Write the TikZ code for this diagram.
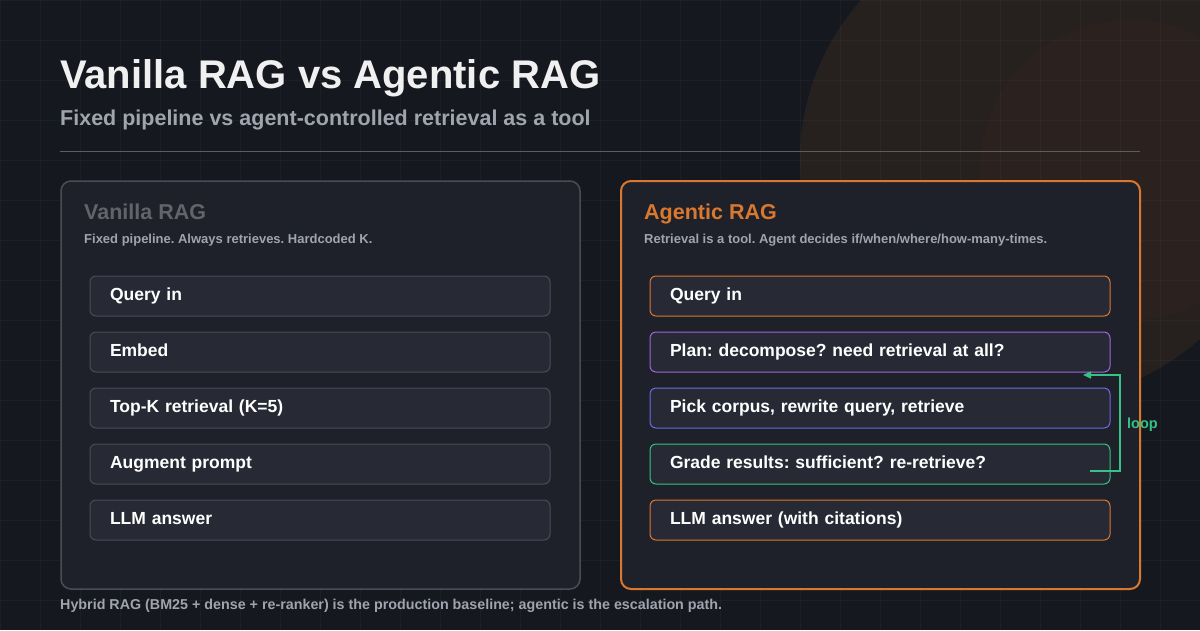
\documentclass[tikz,border=0pt]{standalone}
\usepackage{fontspec}
\setmainfont{Liberation Sans}
\frenchspacing
\usetikzlibrary{arrows.meta}
\definecolor{bg}{HTML}{16181F}
\definecolor{panel}{HTML}{1E2129}
\definecolor{boxf}{HTML}{272A34}
\definecolor{lborder}{HTML}{4A4D57}
\definecolor{orng}{HTML}{D9782E}
\definecolor{purp}{HTML}{A064E0}
\definecolor{indi}{HTML}{6B6BE0}
\definecolor{grn}{HTML}{34C384}
\definecolor{sub}{HTML}{A0A4AE}
\definecolor{glow}{HTML}{3A2A20}
\tikzset{
 panelbox/.style={draw, line width=1.5pt, fill=panel, rounded corners=10pt},
 stepbox/.style={draw, line width=1pt, fill=boxf, rounded corners=6pt, minimum width=460pt, minimum height=40pt, text width=420pt, text height=11pt, text depth=2pt, align=left, inner xsep=20pt, font=\bfseries\fontsize{17.5}{20}\selectfont, text=white},
 heading/.style={anchor=base west, inner sep=0pt, font=\bfseries\fontsize{21.5}{25}\selectfont},
 subtxt/.style={anchor=base west, inner sep=0pt, font=\bfseries\fontsize{13}{15}\selectfont, text=sub}
}
\begin{document}
\begin{tikzpicture}[x=1pt,y=-1pt]
\useasboundingbox (0,0) rectangle (1200,630);
\fill[bg] (0,0) rectangle (1200,630);
\begin{scope}
\clip (0,0) rectangle (1200,630);
\fill[glow, opacity=0.45] (1040,160) circle (240);
\fill[glow, opacity=0.25] (1130,170) circle (150);
\foreach \x in {0,40,...,1200} \draw[white, opacity=0.03] (\x,0) -- (\x,630);
\foreach \y in {0,40,...,640} \draw[white, opacity=0.03] (0,\y) -- (1200,\y);
\end{scope}
\node[anchor=base west, inner sep=0pt, font=\bfseries\fontsize{40}{44}\selectfont, text=white!94!black] (title) at (60,88) {Vanilla RAG vs Agentic RAG};
\node[anchor=base west, inner sep=0pt, font=\bfseries\fontsize{21.5}{25}\selectfont, text=sub] (subt) at (60,125) {Fixed pipeline vs agent-controlled retrieval as a tool};
\draw[white!30!bg, line width=1pt] (60,151) -- (1140,151);
% panels
\draw[panelbox, draw=lborder] (61,181) rectangle (580,589);
\draw[panelbox, draw=orng, line width=2pt] (621,181) rectangle (1140,589);
\node[heading, text=white!30!panel] (lh) at (84,219) {Vanilla RAG};
\node[subtxt] (ls) at (84,243) {Fixed pipeline. Always retrieves. Hardcoded K.};
\node[heading, text=orng] (rh) at (644,219) {Agentic RAG};
\node[subtxt] (rs) at (644,243) {Retrieval is a tool. Agent decides if/when/where/how-many-times.};
% left steps
\node[stepbox, draw=lborder] (l1) at (320,296) {Query in};
\node[stepbox, draw=lborder] (l2) at (320,352) {Embed};
\node[stepbox, draw=lborder] (l3) at (320,408) {Top-K retrieval (K=5)};
\node[stepbox, draw=lborder] (l4) at (320,464) {Augment prompt};
\node[stepbox, draw=lborder] (l5) at (320,520) {LLM answer};
% right steps
\node[stepbox, draw=orng] (r1) at (880,296) {Query in};
\node[stepbox, draw=purp] (r2) at (880,352) {Plan: decompose? need retrieval at all?};
\node[stepbox, draw=indi] (r3) at (880,408) {Pick corpus, rewrite query, retrieve};
\node[stepbox, draw=grn] (r4) at (880,464) {Grade results: sufficient? re-retrieve?};
\node[stepbox, draw=orng] (r5) at (880,520) {LLM answer (with citations)};
\coordinate (ls0) at (1090,471);
\coordinate (le) at (1083,375);
\draw[grn, line width=1.5pt, -{Triangle[length=8pt,width=7pt]}] (ls0) -- (1120,471) -- (1120,375) -- (le);
\node[anchor=base west, inner sep=0pt, font=\bfseries\fontsize{14.5}{17}\selectfont, text=grn] (loop) at (1127,428) {loop};
\node[subtxt, font=\bfseries\fontsize{14.3}{17}\selectfont] (foot) at (60,609) {Hybrid RAG (BM25 + dense + re-ranker) is the production baseline; agentic is the escalation path.};
\end{tikzpicture}
\end{document}
